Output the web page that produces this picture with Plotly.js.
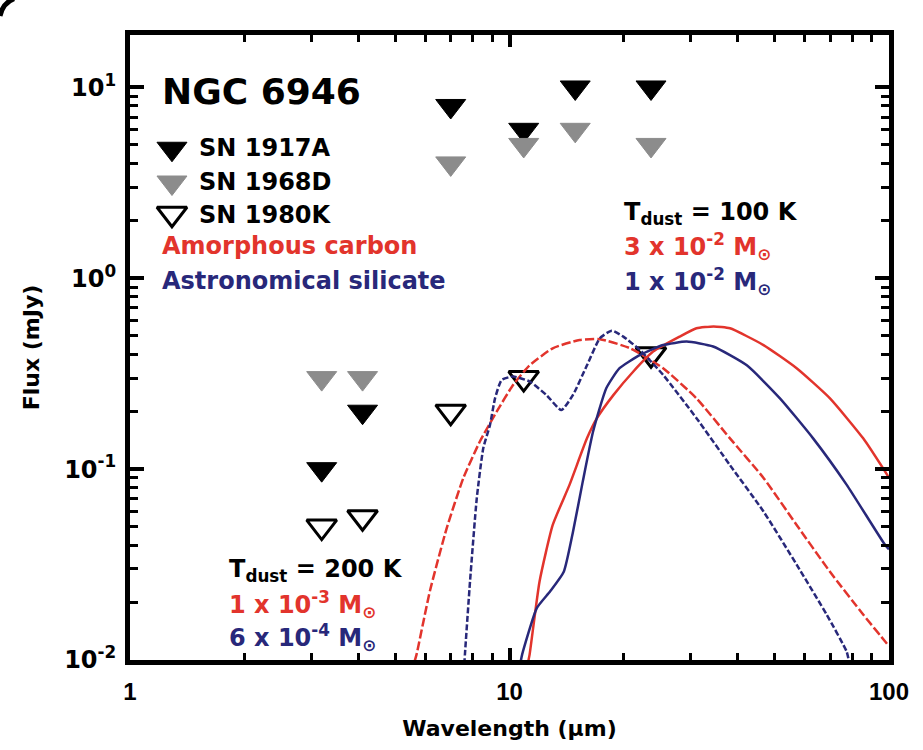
<!DOCTYPE html>
<html><head><meta charset="utf-8">
<script src="https://cdn.plot.ly/plotly-3.0.1.min.js"></script>
<style>html,body{margin:0;padding:0;background:#fff}</style>
</head><body><div id="chart" style="width:923px;height:750px"></div>
<script>
// Photometric upper limits (mJy)
const bands = [3.2, 4.1, 7.0, 10.9, 14.9, 23.6];
const sn1917aFlux = [0.1, 0.2, 8, 6, 10, 10];
const sn1968dFlux = [0.3, 0.3, 4, 5, 6, 5];
const sn1980kBands = [3.2, 4.1, 7.0, 10.9, 23.6];
const sn1980kFlux = [0.05, 0.056, 0.2, 0.3, 0.4];

// Dust models, T = 200 K (dashed)
const carbon200Wl = [5.62, 5.69, 6.17, 6.83, 7.56, 8.36, 9.25, 10.23, 11.3, 13.0, 15.3, 17.3, 20.8, 25.4, 31.1, 38.1, 46.7, 57.1, 69.9, 85.5, 97.7, 100];
const carbon200Flux = [0.0098, 0.0107, 0.023, 0.049, 0.09, 0.14, 0.2, 0.277, 0.35, 0.43, 0.475, 0.48, 0.43, 0.338, 0.235, 0.145, 0.09, 0.051, 0.029, 0.0173, 0.0125, 0.0118];
const silicate200Wl = [7.6, 7.63, 7.87, 8.2, 8.53, 8.88, 9.16, 9.53, 10.23, 11.3, 12.5, 13.7, 14.7, 16.0, 17.3, 18.6, 19.95, 22.1, 25.4, 31.1, 38.1, 46.7, 57.1, 68.5, 77.3, 78.5];
const silicate200Flux = [0.0095, 0.0107, 0.0258, 0.0705, 0.129, 0.17, 0.235, 0.293, 0.306, 0.288, 0.245, 0.204, 0.245, 0.35, 0.485, 0.532, 0.495, 0.42, 0.312, 0.185, 0.105, 0.06, 0.0316, 0.0173, 0.0111, 0.0098];

// Dust models, T = 100 K (solid)
const carbon100Wl = [11.2, 11.3, 12.0, 13.0, 14.4, 16.0, 17.0, 18.8, 21.2, 23.9, 28.1, 31.1, 34.5, 38.1, 46.7, 57.1, 69.9, 85.5, 97.7, 100];
const carbon100Flux = [0.0098, 0.0107, 0.0258, 0.051, 0.083, 0.145, 0.185, 0.245, 0.325, 0.413, 0.495, 0.547, 0.56, 0.547, 0.447, 0.338, 0.235, 0.145, 0.097, 0.09];
const silicate100Wl = [10.7, 10.8, 11.8, 12.8, 13.9, 14.7, 15.6, 16.6, 18.0, 19.5, 22.1, 25.4, 29.3, 34.4, 42.2, 51.6, 63.1, 77.3, 97.7, 100];
const silicate100Flux = [0.0098, 0.0107, 0.0187, 0.0229, 0.029, 0.047, 0.0863, 0.157, 0.266, 0.338, 0.397, 0.447, 0.466, 0.439, 0.35, 0.235, 0.145, 0.083, 0.04, 0.038];

// Axis ticks
const xTickVals = [1, 10, 100];
const xTickText = ['1', '10', '100'];
const yTickVals = [0.01, 0.1, 1, 10];
const yTickText = ['10<sup>-2</sup>', '10<sup>-1</sup>', '10<sup>0</sup>', '10<sup>1</sup>'];
const xMinorVals = [2, 3, 4, 5, 6, 7, 8, 9, 20, 30, 40, 50, 60, 70, 80, 90];
const yMinorVals = [0.02, 0.03, 0.04, 0.05, 0.06, 0.07, 0.08, 0.09, 0.2, 0.3, 0.4, 0.5, 0.6, 0.7, 0.8, 0.9, 2, 3, 4, 5, 6, 7, 8, 9];

const RED = '#e2342c';
const NAVY = '#28287a';
const GRAY = '#8c8c8c';
const FONT = 'DejaVu Sans';

const mk = (sym, col, lw) => ({symbol: sym, size: 26, color: col, line: {color: col, width: lw}});

const traces = [
  {x: bands, y: sn1917aFlux, mode: 'markers', marker: mk('triangle-down', 'black', 1), name: 'SN 1917A'},
  {x: bands, y: sn1968dFlux, mode: 'markers', marker: mk('triangle-down', GRAY, 1), name: 'SN 1968D'},
  {x: sn1980kBands, y: sn1980kFlux, mode: 'markers', marker: mk('triangle-down-open', 'black', 3), name: 'SN 1980K'},
  {x: carbon200Wl, y: carbon200Flux, mode: 'lines', line: {color: RED, width: 2.5, dash: '9px,3px', shape: 'spline', smoothing: 0.5}, name: 'Carbon 200 K'},
  {x: silicate200Wl, y: silicate200Flux, mode: 'lines', line: {color: NAVY, width: 2.5, dash: '6px,2.5px', shape: 'spline', smoothing: 0.5}, name: 'Silicate 200 K'},
  {x: carbon100Wl, y: carbon100Flux, mode: 'lines', line: {color: RED, width: 2.5, shape: 'spline', smoothing: 0.5}, name: 'Carbon 100 K'},
  {x: silicate100Wl, y: silicate100Flux, mode: 'lines', line: {color: NAVY, width: 2.5, shape: 'spline', smoothing: 0.5}, name: 'Silicate 100 K'},
  // legend key markers on an overlay axis
  {x: [0.0553], y: [0.818], xaxis: 'x2', yaxis: 'y2', mode: 'markers', marker: mk('triangle-down', 'black', 1), hoverinfo: 'skip'},
  {x: [0.0553], y: [0.764], xaxis: 'x2', yaxis: 'y2', mode: 'markers', marker: mk('triangle-down', GRAY, 1), hoverinfo: 'skip'},
  {x: [0.0553], y: [0.714], xaxis: 'x2', yaxis: 'y2', mode: 'markers', marker: mk('triangle-down-open', 'black', 3), hoverinfo: 'skip'}
];

const txt = (text, x, y, size, color) => ({
  text: text, x: x, y: y, xref: 'paper', yref: 'paper', xanchor: 'left', yanchor: 'middle',
  showarrow: false, font: {family: FONT, size: size, color: color, weight: 'bold'}
});

const layout = {
  width: 923, height: 750,
  margin: {l: 130, r: 34, t: 35, b: 90},
  paper_bgcolor: 'white', plot_bgcolor: 'white',
  showlegend: false,
  xaxis: {
    type: 'log', range: [0, 2], tickmode: 'array', tickvals: xTickVals, ticktext: xTickText,
    ticks: 'inside', ticklen: 12, tickwidth: 4, tickcolor: 'black', ticklabelstandoff: 6,
    minor: {tickmode: 'array', tickvals: xMinorVals, ticks: 'inside', ticklen: 7, tickwidth: 3, tickcolor: 'black'},
    showline: true, linewidth: 5, linecolor: 'black', mirror: 'ticks', showgrid: false, zeroline: false,
    tickfont: {family: 'Liberation Sans', size: 24, weight: 'bold', color: 'black'},
    title: {text: 'Wavelength (μm)', font: {family: FONT, size: 22, weight: 'bold', color: 'black'}, standoff: 18}
  },
  yaxis: {
    type: 'log', range: [-2, 1.275], tickmode: 'array', tickvals: yTickVals, ticktext: yTickText,
    ticks: 'inside', ticklen: 14, tickwidth: 4, tickcolor: 'black', ticklabelstandoff: 4,
    minor: {tickmode: 'array', tickvals: yMinorVals, ticks: 'inside', ticklen: 8, tickwidth: 3, tickcolor: 'black'},
    showline: true, linewidth: 5, linecolor: 'black', mirror: 'ticks', showgrid: false, zeroline: false,
    tickfont: {family: FONT, size: 24, weight: 'bold', color: 'black'},
    title: {text: 'Flux (mJy)', font: {family: FONT, size: 22, weight: 'bold', color: 'black'}, standoff: 20}
  },
  xaxis2: {overlaying: 'x', anchor: 'y2', range: [0, 1], visible: false, fixedrange: true},
  yaxis2: {overlaying: 'y', anchor: 'x2', range: [0, 1], visible: false, fixedrange: true},
  annotations: [
    txt('NGC 6946', 0.0395, 0.909, 36, 'black'),
    txt('SN 1917A', 0.0883, 0.819, 24, 'black'),
    txt('SN 1968D', 0.0883, 0.765, 24, 'black'),
    txt('SN 1980K', 0.0883, 0.712, 24, 'black'),
    txt('Amorphous carbon', 0.0395, 0.662, 24, RED),
    txt('Astronomical silicate', 0.0395, 0.606, 24, NAVY),
    txt('T<sub>dust</sub> = 100 K', 0.648, 0.715, 24, 'black'),
    txt('3 x 10<sup>-2</sup> M<sub>⊙</sub>', 0.648, 0.662, 24, RED),
    txt('1 x 10<sup>-2</sup> M<sub>⊙</sub>', 0.648, 0.606, 24, NAVY),
    txt('T<sub>dust</sub> = 200 K', 0.1278, 0.144, 24, 'black'),
    txt('1 x 10<sup>-3</sup> M<sub>⊙</sub>', 0.1278, 0.0896, 24, RED),
    txt('6 x 10<sup>-4</sup> M<sub>⊙</sub>', 0.1278, 0.0368, 24, NAVY)
  ],
  shapes: [
    {type: 'path', xref: 'paper', yref: 'paper', path: 'M -0.1713,1.0304 Q -0.1675,1.0512 -0.1528,1.058', line: {color: 'black', width: 5}}
  ]
};

Plotly.newPlot('chart', traces, layout, {displayModeBar: false, staticPlot: true});
</script></body></html>
